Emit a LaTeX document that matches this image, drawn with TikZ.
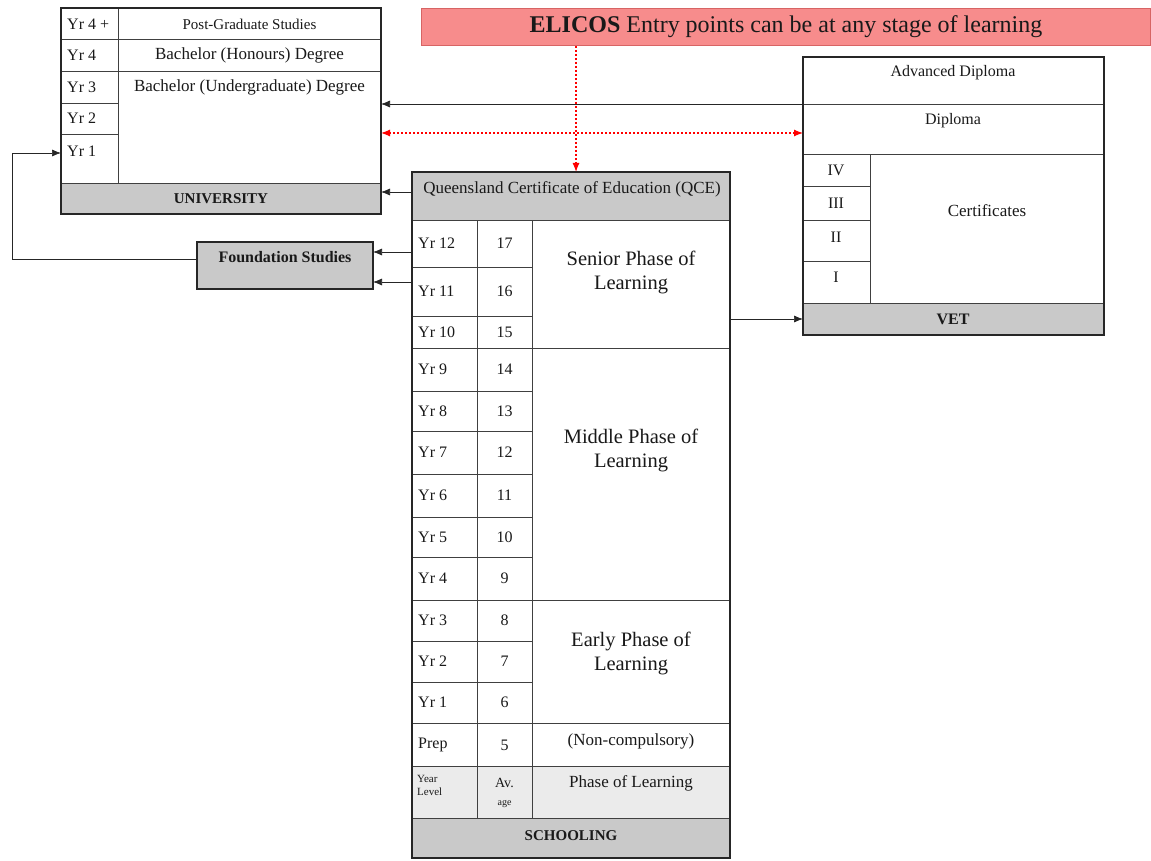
\documentclass[tikz,border=0pt]{standalone}
\usepackage{fontspec}
\setmainfont{Liberation Serif}
\usetikzlibrary{arrows.meta}
\definecolor{bannerfill}{RGB}{247,140,140}
\definecolor{bannerline}{RGB}{215,100,100}
\newcommand\cellbox[6]{\node[cell,#6,minimum width={#4-#2},minimum height={#5-#3},anchor=north west] (#1) at (#2,#3) {};}
\begin{document}
\begin{tikzpicture}[x=1pt,y=-1pt,
 cell/.style={draw=black!75, line width=0.8pt, inner sep=0pt, outer sep=0pt},
 boxframe/.style={draw=black!85, line width=1.5pt},
 band/.style={fill=black!21},
 lband/.style={fill=black!8},
 lbl/.style={inner sep=0pt, text=black!90},
 s16/.style={lbl,font=\fontsize{16}{19}\selectfont},
 s17/.style={lbl,font=\fontsize{17}{20}\selectfont},
 s20/.style={lbl,font=\fontsize{20.5}{24}\selectfont,align=center},
 arr/.style={-{Latex[length=9pt,width=7pt]}, line width=0.7pt, draw=black!85},
 redarr/.style={{Latex[length=9pt,width=7pt]}-{Latex[length=9pt,width=7pt]}, dash pattern=on 2pt off 2pt, line width=1.2pt, red},
 reddown/.style={-{Latex[length=9pt,width=7pt]}, dash pattern=on 2pt off 2pt, line width=1.2pt, red},
]
\fill[white] (0,0) rectangle (1151,861);
\useasboundingbox (0,0) rectangle (1151,861);

% ---------- University ----------
\cellbox{uY4p}{61}{8}{118}{39}{}
\cellbox{uPG}{118}{8}{381}{39}{}
\cellbox{uY4}{61}{39}{118}{71}{}
\cellbox{uHon}{118}{39}{381}{71}{}
\cellbox{uY3}{61}{71}{118}{103}{}
\cellbox{uY2}{61}{103}{118}{134}{}
\cellbox{uY1}{61}{134}{118}{183}{}
\cellbox{uUG}{118}{71}{381}{183}{}
\cellbox{uBand}{61}{183}{381}{214}{band}
\cellbox{uni}{61}{8}{381}{214}{boxframe}
\node[s16,anchor=west] (tuY4p) at (67,24) {Yr 4 +};
\node[lbl,font=\fontsize{15}{18}\selectfont] (tuPG) at (249.5,24) {Post-Graduate Studies};
\node[s16,anchor=west] (tuY4) at (67,55) {Yr 4};
\node[s17] (tuHon) at (249.5,55) {Bachelor (Honours) Degree};
\node[s16,anchor=west] (tuY3) at (67,87) {Yr 3};
\node[s17] (tuUG) at (249.5,87) {Bachelor (Undergraduate) Degree};
\node[s16,anchor=west] (tuY2) at (67,118) {Yr 2};
\node[s16,anchor=west] (tuY1) at (67,151) {Yr 1};
\node[lbl,font=\bfseries\fontsize{15}{18}\selectfont] (tuni) at (221,199) {UNIVERSITY};

% ---------- Foundation ----------
\cellbox{found}{197}{242}{373}{289}{band,boxframe}
\node[lbl,font=\bfseries\fontsize{16}{19}\selectfont] (tfound) at (285,257) {Foundation Studies};

% ---------- ELICOS banner ----------
\node[draw=bannerline, fill=bannerfill, line width=1pt, inner sep=0pt,
      minimum width=729, minimum height=37, anchor=north west,
      font=\fontsize{24}{28}\selectfont, text=black!90] (elicos) at (421,8)
      {\textbf{ELICOS} Entry points can be at any stage of learning};

% ---------- VET ----------
\cellbox{vetAD}{803}{57}{1104}{104}{}
\cellbox{vetD}{803}{104}{1104}{154}{}
\cellbox{vIV}{803}{154}{870}{186}{}
\cellbox{vIII}{803}{186}{870}{220}{}
\cellbox{vII}{803}{220}{870}{261}{}
\cellbox{vI}{803}{261}{870}{303}{}
\cellbox{vCert}{870}{154}{1104}{303}{}
\cellbox{vBand}{803}{303}{1104}{335}{band}
\cellbox{vet}{803}{57}{1104}{335}{boxframe}
\node[s16] (tvAD) at (953,73) {Advanced Diploma};
\node[s16] (tvD) at (953,121) {Diploma};
\node[s16] (tvIV) at (836,170) {IV};
\node[s16] (tvIII) at (836,203) {III};
\node[s16] (tvII) at (836,237) {II};
\node[s16] (tvI) at (836,277) {I};
\node[s17] (tvCert) at (987,211) {Certificates};
\node[lbl,font=\bfseries\fontsize{16}{19}\selectfont] (tvet) at (953,319) {VET};

% ---------- Schooling ----------
\cellbox{qce}{412}{172}{730}{220}{band}
\node[s17] (tqce) at (572,189) {Queensland Certificate of Education (QCE)};
\foreach \n/\a/\b/\age in {12/220/267/17, 11/267/316/16, 10/316/348/15, 9/348/391/14,
  8/391/431/13, 7/431/474/12, 6/474/517/11, 5/517/557/10, 4/557/600/9, 3/600/641/8,
  2/641/682/7, 1/682/723/6}{
  \cellbox{sy\n}{412}{\a}{477}{\b}{}
  \cellbox{sa\n}{477}{\a}{532}{\b}{}
  \node[s16,anchor=west] (tsy\n) at (418,{(\a+\b)/2}) {Yr \n};
  \node[s16] (tsa\n) at (504.5,{(\a+\b)/2}) {\age};
}
\cellbox{phS}{532}{220}{730}{348}{}
\cellbox{phM}{532}{348}{730}{600}{}
\cellbox{phE}{532}{600}{730}{723}{}
\node[s20] (tphS) at (631,272) {Senior Phase of\\Learning};
\node[s20] (tphM) at (631,450) {Middle Phase of\\Learning};
\node[s20] (tphE) at (631,653) {Early Phase of\\Learning};
\cellbox{syP}{412}{723}{477}{766}{}
\cellbox{saP}{477}{723}{532}{766}{}
\cellbox{phN}{532}{723}{730}{766}{}
\node[s16,anchor=west] (tsyP) at (418,745) {Prep};
\node[s16] (tsaP) at (504.5,745) {5};
\node[s17] (tphN) at (631,741) {(Non-compulsory)};
\cellbox{fy}{412}{766}{477}{818}{lband}
\cellbox{fa}{477}{766}{532}{818}{lband}
\cellbox{fp}{532}{766}{730}{818}{lband}
\node[lbl,font=\fontsize{11}{13}\selectfont,align=left,anchor=west] (tfy) at (417,785) {Year\\Level};
\node[lbl,font=\fontsize{14}{18}\selectfont,align=center] (tfa) at (504.5,793) {Av.\\{\fontsize{10}{12}\selectfont age}};
\node[s17] (tfp) at (631,783) {Phase of Learning};
\cellbox{sBand}{412}{818}{730}{858}{band}
\node[lbl,font=\bfseries\fontsize{15}{18}\selectfont] (tsch) at (571,836) {SCHOOLING};
\cellbox{sch}{412}{172}{730}{858}{boxframe}

% ---------- Connectors ----------
\coordinate (bend) at (12,153);
\draw[arr] ([yshift=6.5pt]found.west) -| (bend) -- ([yshift=5.5pt]uY1.west);
\coordinate (fsA) at ([yshift=13.5pt]found.east);
\coordinate (fsB) at ([yshift=-16.5pt]found.east);
\draw[arr] (sch.west |- fsA) -- (fsA);
\draw[arr] (sch.west |- fsB) -- (fsB);
\draw[arr] (vetD.north west) -- (uni.east |- vetD.north west);
\coordinate (qa) at ([yshift=4pt]qce.west);
\draw[arr] (qa) -- (uni.east |- qa);
\coordinate (ry) at (600,133);
\draw[redarr] (uni.east |- ry) -- (vet.west |- ry);
\coordinate (rx) at (576,100);
\draw[reddown] (elicos.south -| rx) -- (qce.north -| rx);
\draw[arr] (sch.east |- vBand.west) -- (vBand.west);
\end{tikzpicture}
\end{document}
